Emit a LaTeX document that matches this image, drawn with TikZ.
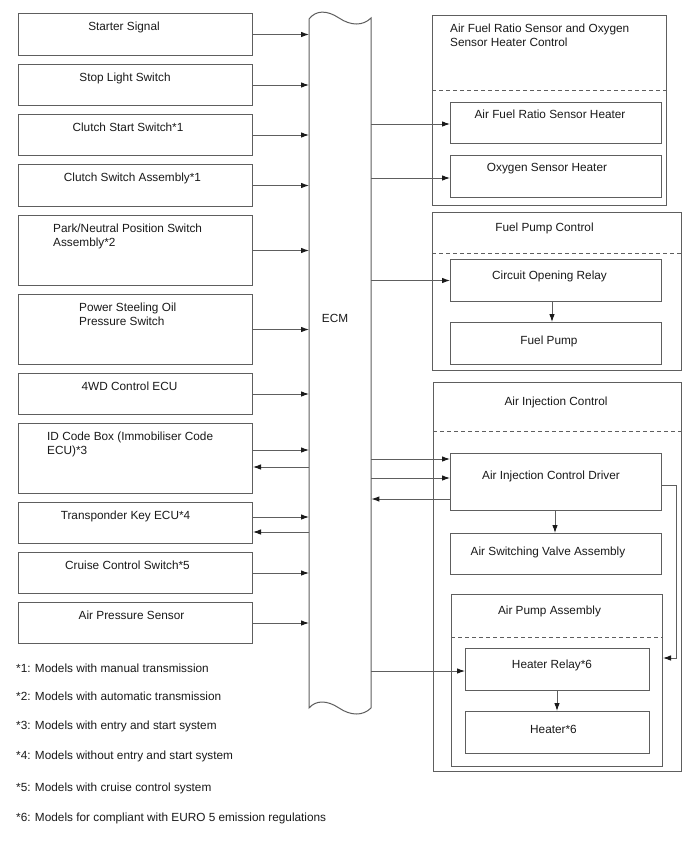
\documentclass[tikz,border=0pt]{standalone}
\usepackage{fontspec}
\setmainfont{Liberation Sans}
\usetikzlibrary{arrows.meta}
\definecolor{lc}{HTML}{5E5E5E}
\definecolor{tc}{HTML}{1A1A1A}
\tikzset{
  box/.style={draw=lc, line width=1pt, inner sep=0pt, anchor=north west},
  txt/.style={font=\fontsize{11.8}{14.5}\selectfont, text=tc, inner sep=0pt, anchor=base},
  txtl/.style={txt, anchor=base west, align=left},
  arr/.style={draw=lc, line width=0.9pt, -{Latex[length=8pt,width=5.5pt,color=tc]}},
  dashline/.style={draw=lc, line width=0.9pt, dash pattern=on 4pt off 3pt},
  conn/.style={draw=lc, line width=1pt}
}
\begin{document}
\begin{tikzpicture}[x=1pt,y=-1pt]
\path[use as bounding box, fill=white] (0,0) rectangle (688,852);

% ---- left boxes ----
\node[box, minimum width=234, minimum height=42] (ss) at (18,13) {};
\node[box, minimum width=234, minimum height=41] (sl) at (18,64) {};
\node[box, minimum width=234, minimum height=41] (css) at (18,114) {};
\node[box, minimum width=234, minimum height=42] (csa) at (18,164) {};
\node[box, minimum width=234, minimum height=70] (pn) at (18,215) {};
\node[box, minimum width=234, minimum height=70] (ps) at (18,294) {};
\node[box, minimum width=234, minimum height=41] (wd) at (18,373) {};
\node[box, minimum width=234, minimum height=70] (id) at (18,423) {};
\node[box, minimum width=234, minimum height=41] (tk) at (18,502) {};
\node[box, minimum width=234, minimum height=41] (cc) at (18,552) {};
\node[box, minimum width=234, minimum height=41] (ap) at (18,602) {};

\node[txt] (sst) at (124,30) {Starter Signal};
\node[txt] (slt) at (125,81) {Stop Light Switch};
\node[txt] (csst) at (128,131) {Clutch Start Switch*1};
\node[txt] (csat) at (132.5,181) {Clutch Switch Assembly*1};
\node[txtl] (pnt) at (53,246.5) {Park/Neutral Position Switch\\Assembly*2};
\node[txtl] (pst) at (79,325.5) {Power Steeling Oil\\Pressure Switch};
\node[txt] (wdt) at (129.5,390) {4WD Control ECU};
\node[txtl] (idt) at (47,454.5) {ID Code Box (Immobiliser Code\\ECU)*3};
\node[txt] (tkt) at (125.5,519) {Transponder Key ECU*4};
\node[txt] (cct) at (127.5,569) {Cruise Control Switch*5};
\node[txt] (apt) at (131.5,619) {Air Pressure Sensor};

% ---- ECM ----
\node[inner sep=0pt, minimum width=62, minimum height=689, anchor=north west] (ecm) at (309,19) {};
\draw[conn] (309,19) .. controls (316,10) and (327,10) .. (339,18)
  .. controls (351,26) and (363,26) .. (371,18) -- (371,708)
  .. controls (363,716) and (351,716) .. (339,708)
  .. controls (327,700) and (316,700) .. (309,708) -- cycle;
\node[txt] (ecmt) at (335,322) {ECM};

% ---- right groups ----
\node[box, minimum width=234, minimum height=190] (g1) at (432,15) {};
\draw[dashline] (g1.west |- 0,90) -- (g1.east |- 0,90);
\node[txtl] (g1t) at (450,46.5) {Air Fuel Ratio Sensor and Oxygen\\Sensor Heater Control};
\node[box, minimum width=211, minimum height=41] (afr) at (450,102) {};
\node[box, minimum width=211, minimum height=42] (ox) at (450,155) {};
\node[txt] (afrt) at (550,118) {Air Fuel Ratio Sensor Heater};
\node[txt] (oxt) at (547,171) {Oxygen Sensor Heater};

\node[box, minimum width=249, minimum height=158] (g2) at (432,212) {};
\draw[dashline] (g2.west |- 0,253) -- (g2.east |- 0,253);
\node[txt] (g2t) at (544.5,231) {Fuel Pump Control};
\node[box, minimum width=211, minimum height=42] (cor) at (450,259) {};
\node[box, minimum width=211, minimum height=42] (fp) at (450,322) {};
\node[txt] (cort) at (549.5,279) {Circuit Opening Relay};
\node[txt] (fpt) at (549,344) {Fuel Pump};

\node[box, minimum width=248, minimum height=389] (g3) at (433,382) {};
\draw[dashline] (g3.west |- 0,431) -- (g3.east |- 0,431);
\node[txt] (g3t) at (556,405) {Air Injection Control};
\node[box, minimum width=211, minimum height=57] (drv) at (450,453) {};
\node[txt] (drvt) at (551,479) {Air Injection Control Driver};
\node[box, minimum width=211, minimum height=41] (asv) at (450,533) {};
\node[txt] (asvt) at (548,555) {Air Switching Valve Assembly};
\node[box, minimum width=211, minimum height=172] (apa) at (451,594) {};
\draw[dashline] (apa.west |- 0,637) -- (apa.east |- 0,637);
\node[txt] (apat) at (549.5,614) {Air Pump Assembly};
\node[box, minimum width=184, minimum height=42] (hr) at (465,648) {};
\node[txt] (hrt) at (552,668) {Heater Relay*6};
\node[box, minimum width=184, minimum height=42] (ht) at (465,711) {};
\node[txt] (htt) at (553.5,733) {Heater*6};

% ---- left arrows ----
\foreach \b in {ss,sl,css,csa,pn,ps,wd,cc,ap}
  \draw[arr] (\b.east) -- (\b.east -| ecm.west);
\draw[arr] (id.east |- 0,450) -- (ecm.west |- 0,450);
\draw[arr] (ecm.west |- 0,467) -- (id.east |- 0,467);
\draw[arr] (tk.east |- 0,517) -- (ecm.west |- 0,517);
\draw[arr] (ecm.west |- 0,532) -- (tk.east |- 0,532);

% ---- right arrows ----
\draw[arr] (ecm.east |- 0,124) -- (afr.west |- 0,124);
\draw[arr] (ecm.east |- 0,178) -- (ox.west |- 0,178);
\draw[arr] (ecm.east |- cor.west) -- (cor.west);
\draw[arr] (ecm.east |- 0,459) -- (drv.west |- 0,459);
\draw[arr] (ecm.east |- 0,478) -- (drv.west |- 0,478);
\draw[arr] (drv.west |- 0,499) -- (ecm.east |- 0,499);
\draw[arr] (ecm.east |- 0,671) -- (hr.west |- 0,671);
\draw[arr] (552,0 |- cor.south) -- (552,0 |- fp.north);
\draw[arr] (555,0 |- drv.south) -- (555,0 |- asv.north);
\draw[arr] (557,0 |- hr.south) -- (557,0 |- ht.north);
\coordinate (fb) at (676,485);
\draw[arr] (drv.east |- fb) -- (fb) |- (apa.east |- 0,658);

% ---- footnotes ----
\node[txt, anchor=base west] (n1) at (16,672) {*1: Models with manual transmission};
\node[txt, anchor=base west] (n2) at (16,700) {*2: Models with automatic transmission};
\node[txt, anchor=base west] (n3) at (16,729) {*3: Models with entry and start system};
\node[txt, anchor=base west] (n4) at (16,759) {*4: Models without entry and start system};
\node[txt, anchor=base west] (n5) at (16,791) {*5: Models with cruise control system};
\node[txt, anchor=base west] (n6) at (16,821) {*6: Models for compliant with EURO 5 emission regulations};
\end{tikzpicture}
\end{document}
